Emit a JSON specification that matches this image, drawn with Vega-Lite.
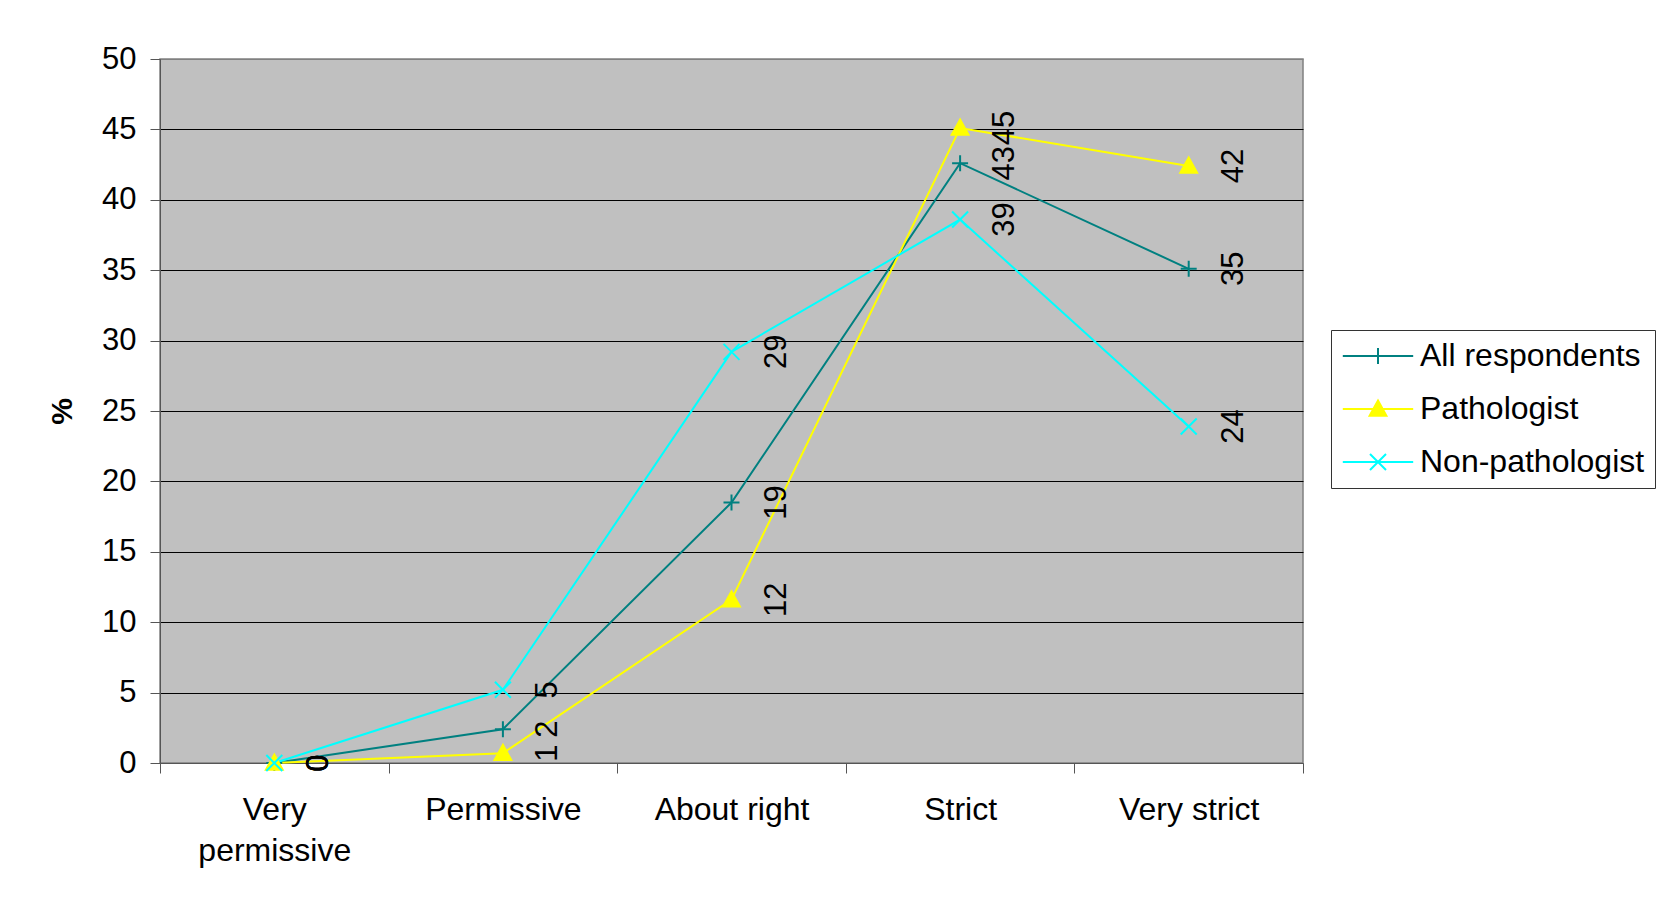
{
  "$schema": "https://vega.github.io/schema/vega-lite/v6.json",
  "width": 1143,
  "height": 704,
  "autosize": {"type": "none"},
  "padding": {"left": 160, "top": 59, "right": 368, "bottom": 142},
  "background": "white",
  "config": {
    "font": "Liberation Sans",
    "view": {"fill": "#C0C0C0", "stroke": "#808080", "strokeWidth": 1.5}
  },
  "data": {
    "values": [
      {"rating": "Very permissive", "series": "All respondents", "pct": 0},
      {"rating": "Permissive", "series": "All respondents", "pct": 2.4},
      {"rating": "About right", "series": "All respondents", "pct": 18.5},
      {"rating": "Strict", "series": "All respondents", "pct": 42.6},
      {"rating": "Very strict", "series": "All respondents", "pct": 35.1},
      {"rating": "Very permissive", "series": "Pathologist", "pct": 0},
      {"rating": "Permissive", "series": "Pathologist", "pct": 0.7},
      {"rating": "About right", "series": "Pathologist", "pct": 11.6},
      {"rating": "Strict", "series": "Pathologist", "pct": 45.1},
      {"rating": "Very strict", "series": "Pathologist", "pct": 42.4},
      {"rating": "Very permissive", "series": "Non-pathologist", "pct": 0},
      {"rating": "Permissive", "series": "Non-pathologist", "pct": 5.2},
      {"rating": "About right", "series": "Non-pathologist", "pct": 29.2},
      {"rating": "Strict", "series": "Non-pathologist", "pct": 38.6},
      {"rating": "Very strict", "series": "Non-pathologist", "pct": 23.9}
    ]
  },
  "encoding": {
    "x": {
      "field": "rating",
      "type": "ordinal",
      "sort": ["Very permissive", "Permissive", "About right", "Strict", "Very strict"],
      "bandPosition": 0.5,
      "scale": {"type": "band", "paddingInner": 0, "paddingOuter": 0},
      "axis": {
        "title": null,
        "tickBand": "extent",
        "tickSize": 10,
        "tickColor": "#555555",
        "domainColor": "#555555",
        "labelFontSize": 32,
        "labelColor": "black",
        "labelPadding": 21,
        "labelAngle": 0,
        "labelExpr": "datum.label == 'Very permissive' ? ['Very', 'permissive'] : datum.label",
        "labelLineHeight": 41,
        "grid": false
      }
    },
    "y": {
      "field": "pct",
      "type": "quantitative",
      "scale": {"domain": [0, 50]},
      "axis": {
        "title": "%",
        "titleFontSize": 30,
        "titleFontWeight": "bold",
        "titleColor": "black",
        "titleX": -98,
        "titleY": 352,
        "titleAngle": 270,
        "titleAlign": "center",
        "titleBaseline": "middle",
        "values": [0, 5, 10, 15, 20, 25, 30, 35, 40, 45, 50],
        "grid": true,
        "gridColor": {"condition": {"test": "datum.value == 50 || datum.value == 0", "value": "#808080"}, "value": "black"},
        "gridWidth": 1,
        "gridOpacity": 1,
        "tickSize": 10,
        "tickColor": "#555555",
        "domainColor": "#555555",
        "labelFontSize": 31,
        "labelColor": "black",
        "labelPadding": 14,
        "labelFlush": false,
        "labelOverlap": false
      }
    }
  },
  "layer": [
    {
      "mark": {"type": "line", "strokeWidth": 2},
      "encoding": {
        "color": {
          "field": "series",
          "type": "nominal",
          "scale": {"domain": ["All respondents", "Pathologist", "Non-pathologist"], "range": ["#008080", "#FFFF00", "#00FFFF"]},
          "legend": {
            "orient": "none",
            "legendX": 1171,
            "legendY": 271,
            "title": null,
            "labelFontSize": 32,
            "labelColor": "black",
            "labelFont": "Liberation Sans",
            "labelLimit": 500,
            "symbolSize": 256,
            "symbolStrokeWidth": 2,
            "symbolOffset": 21,
            "labelOffset": 26,
            "rowPadding": 21,
            "padding": 10,
            "strokeColor": "#333333",
            "fillColor": "white",
            "encode": {
              "symbols": {
                "update": {
                  "shape": {"signal": "datum.value === 'All respondents' ? 'M-4.4,0H4.4M0,-1V1' : datum.value === 'Pathologist' ? 'M-4.4,0H4.4M0,-1.05L1.05,0.85H-1.05Z' : 'M-4.4,0H4.4M-1,-1L1,1M-1,1L1,-1'"},
                  "fill": {"signal": "datum.value === 'Pathologist' ? '#FFFF00' : 'transparent'"}
                }
              }
            }
          }
        }
      }
    },
    {
      "mark": {
        "type": "point",
        "filled": false,
        "size": 256,
        "strokeWidth": 2,
        "opacity": 1,
        "shape": {"expr": "datum.series === 'All respondents' ? 'M-1,0H1M0,-1V1' : datum.series === 'Pathologist' ? 'M0,-1.05L1.05,0.85H-1.05Z' : 'M-1,-1L1,1M-1,1L1,-1'"},
        "fill": {"expr": "datum.series === 'Pathologist' ? '#FFFF00' : 'transparent'"}
      },
      "encoding": {
        "color": {"field": "series", "type": "nominal", "legend": null}
      }
    },
    {
      "mark": {"type": "text", "angle": 270, "dy": 45, "fontSize": 31, "align": "center", "baseline": "middle", "color": "black"},
      "encoding": {
        "text": {"field": "pct", "type": "quantitative", "format": ".0f"}
      }
    }
  ]
}
